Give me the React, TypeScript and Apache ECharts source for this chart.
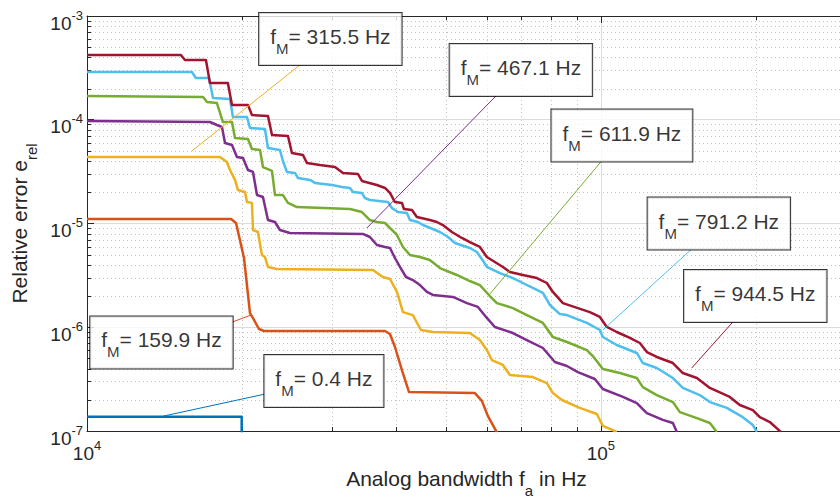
import React, { useEffect, useRef } from 'react';
import * as echarts from 'echarts';

const FONT = '"Liberation Sans", Arial, Helvetica, sans-serif';
const AX = '#262626';

// axis ranges / ticks
const xMin = 1e4;
const xMax = 3e5;
const yMin = 1e-7;
const yMax = 1e-3;
const xMinorTicks = [2e4, 3e4, 4e4, 5e4, 6e4, 7e4, 8e4, 9e4, 2e5, 3e5];
const yMinorTicks = [
  2e-7, 3e-7, 4e-7, 5e-7, 6e-7, 7e-7, 8e-7, 9e-7,
  2e-6, 3e-6, 4e-6, 5e-6, 6e-6, 7e-6, 8e-6, 9e-6,
  2e-5, 3e-5, 4e-5, 5e-5, 6e-5, 7e-5, 8e-5, 9e-5,
  2e-4, 3e-4, 4e-4, 5e-4, 6e-4, 7e-4, 8e-4, 9e-4,
];

// curves: [analog bandwidth Hz, relative error]
const curve04 = [[1e4, 1.37e-7], [2e4, 1.37e-7], [2e4, 0.9e-7]];
const curve160 = [
  [1e4, 1.105e-5], [19070, 1.105e-5], [19500, 1.011e-5], [20210, 4.65e-6], [20760, 1.37e-6],
  [21140, 1.175e-6], [21610, 9.62e-7], [22100, 9.2e-7], [38010, 9.2e-7], [38870, 8.61e-7],
  [39750, 6.45e-7], [41010, 3.87e-7], [42320, 2.38e-7], [56870, 2.32e-7], [58680, 1.95e-7],
  [60290, 1.39e-7], [62760, 0.97e-7],
];
const curve316 = [
  [1e4, 4.38e-5], [18140, 4.38e-5], [18720, 3.92e-5], [18980, 3.28e-5], [19410, 2.63e-5],
  [19670, 2.1e-5], [20300, 2.01e-5], [20480, 1.61e-5], [20940, 1.58e-5], [21040, 8.66e-6],
  [21510, 8.28e-6], [21900, 4.97e-6], [22200, 4.75e-6], [22500, 3.81e-6], [23420, 3.64e-6],
  [36000, 3.56e-6], [37660, 3.05e-6], [38870, 2.92e-6], [40100, 2.19e-6], [41200, 1.4e-6],
  [43070, 1.31e-6], [44660, 9.41e-7], [47120, 9.0e-7], [55600, 8.8e-7], [58150, 7.53e-7],
  [60000, 6.03e-7], [61360, 4.83e-7], [64470, 4.33e-7], [66530, 3.47e-7], [73730, 3.31e-7],
  [78510, 2.9e-7], [80660, 2.32e-7], [83980, 1.99e-7], [91010, 1.67e-7], [98220, 1.46e-7],
  [100900, 1.12e-7], [107400, 0.98e-7],
];
const curve467 = [
  [1e4, 9.72e-5], [17350, 9.51e-5], [17900, 8.9e-5], [18310, 8.51e-5], [18560, 5.97e-5],
  [19150, 5.71e-5], [19580, 4.38e-5], [20120, 4.28e-5], [20570, 3.28e-5], [21040, 3.14e-5],
  [21420, 1.88e-5], [22000, 1.8e-5], [22500, 1.08e-5], [23220, 1.034e-5], [23740, 8.66e-6],
  [24830, 8.1e-6], [34430, 7.93e-6], [35530, 7.41e-6], [36660, 6.21e-6], [38010, 5.94e-6],
  [38870, 5.81e-6], [39750, 4.65e-6], [40650, 3.81e-6], [41760, 3.05e-6], [43070, 2.85e-6],
  [44460, 2.55e-6], [45870, 2.19e-6], [47120, 2.05e-6], [51540, 1.96e-6], [54870, 1.71e-6],
  [57650, 1.57e-6], [60000, 1.23e-6], [62200, 1.006e-6], [67430, 8.8e-7], [71780, 7.53e-7],
  [77130, 6.31e-7], [81380, 4.62e-7], [85900, 4.23e-7], [90230, 3.7e-7], [97340, 3.17e-7],
  [100900, 2.54e-7], [110400, 2.13e-7], [117500, 1.86e-7], [122900, 1.49e-7], [132000, 1.28e-7],
  [138100, 1.194e-7], [140600, 0.98e-7],
];
const curve612 = [
  [1e4, 1.694e-4], [16820, 1.657e-4], [17120, 1.483e-4], [17900, 1.45e-4], [18390, 9.51e-5],
  [19150, 9.51e-5], [19410, 6.67e-5], [20570, 6.52e-5], [20940, 5.22e-5], [21710, 5.11e-5],
  [22000, 3.5e-5], [22910, 3.21e-5], [23220, 1.88e-5], [24060, 1.88e-5], [24610, 1.58e-5],
  [25620, 1.44e-5], [32490, 1.38e-5], [34280, 1.29e-5], [35530, 1.08e-5], [36660, 1.034e-5],
  [38010, 1.011e-5], [38870, 9.05e-6], [40100, 7.75e-6], [41200, 5.94e-6], [42510, 4.97e-6],
  [44460, 4.75e-6], [46480, 4.45e-6], [48620, 3.72e-6], [52460, 3.19e-6], [55600, 2.79e-6],
  [58150, 2.55e-6], [60810, 2.0e-6], [62760, 1.71e-6], [67430, 1.53e-6], [71780, 1.31e-6],
  [77130, 1.1e-6], [80660, 8.05e-7], [85900, 7.21e-7], [93940, 6.03e-7], [96470, 5.28e-7],
  [100900, 3.96e-7], [108900, 3.62e-7], [117500, 3.24e-7], [120700, 2.65e-7], [128500, 2.22e-7],
  [138100, 1.9e-7], [142500, 1.52e-7], [153800, 1.33e-7], [163000, 1.194e-7], [168200, 0.98e-7],
];
const curve791 = [
  [1e4, 2.885e-4], [16000, 2.885e-4], [16290, 2.525e-4], [17270, 2.525e-4], [17590, 1.62e-4],
  [18980, 1.585e-4], [19230, 1.063e-4], [20480, 1.063e-4], [20760, 8.33e-5], [22200, 8.14e-5],
  [22500, 5.34e-5], [23740, 5.11e-5], [24060, 4.0e-5], [24490, 3.14e-5], [25390, 3.07e-5],
  [25730, 2.75e-5], [27160, 2.63e-5], [27780, 2.46e-5], [29980, 2.35e-5], [31340, 2.25e-5],
  [32490, 2.2e-5], [32930, 2.01e-5], [34280, 1.97e-5], [34740, 1.76e-5], [35530, 1.685e-5],
  [38510, 1.61e-5], [39210, 1.41e-5], [40280, 1.29e-5], [41940, 1.262e-5], [42510, 1.08e-5],
  [44060, 1.034e-5], [45060, 9.67e-6], [46080, 9.25e-6], [48620, 8.28e-6], [50400, 7.41e-6],
  [52000, 6.49e-6], [55600, 5.81e-6], [57380, 5.31e-6], [59210, 4.25e-6], [60000, 3.81e-6],
  [63610, 3.33e-6], [67430, 2.98e-6], [70500, 2.67e-6], [73730, 2.39e-6], [77130, 2.14e-6],
  [79580, 1.64e-6], [83240, 1.34e-6], [85900, 1.31e-6], [93940, 1.1e-6], [99560, 9.41e-7],
  [100900, 8.05e-7], [107400, 6.74e-7], [117500, 5.65e-7], [120700, 4.52e-7], [128500, 4.05e-7],
  [138100, 3.24e-7], [144400, 2.6e-7], [155800, 2.22e-7], [163000, 1.9e-7], [175900, 1.67e-7],
  [188900, 1.36e-7], [197600, 1.14e-7], [201200, 0.98e-7],
];
const curve945 = [
  [1e4, 4.21e-4], [15230, 4.21e-4], [15510, 3.77e-4], [17040, 3.77e-4], [17350, 2.26e-4],
  [18800, 2.26e-4], [19150, 1.39e-4], [20570, 1.39e-4], [20940, 1.111e-4], [22500, 1.087e-4],
  [22910, 7.13e-5], [24610, 6.97e-5], [25050, 4.78e-5], [26320, 4.57e-5], [26790, 3.83e-5],
  [28400, 3.66e-5], [30380, 3.5e-5], [31490, 3.07e-5], [33670, 3.0e-5], [34280, 2.57e-5],
  [36660, 2.35e-5], [38010, 2.2e-5], [38870, 1.97e-5], [39750, 1.61e-5], [41010, 1.58e-5],
  [41380, 1.38e-5], [42890, 1.35e-5], [43850, 1.155e-5], [46480, 1.08e-5], [47960, 1.034e-5],
  [49270, 9.67e-6], [51300, 8.28e-6], [53650, 7.25e-6], [55600, 6.63e-6], [58150, 5.94e-6],
  [60000, 4.75e-6], [64470, 3.81e-6], [66530, 3.41e-6], [70500, 3.19e-6], [75070, 2.98e-6],
  [78510, 2.67e-6], [80660, 2.19e-6], [84360, 1.71e-6], [95200, 1.4e-6], [99560, 1.256e-6],
  [102700, 1.006e-6], [107400, 9.0e-7], [113900, 7.88e-7], [119100, 7.05e-7], [122900, 5.77e-7],
  [128500, 5.17e-7], [138100, 4.52e-7], [144400, 3.62e-7], [153800, 3.24e-7], [163000, 2.6e-7],
  [178200, 2.13e-7], [186400, 1.78e-7], [197600, 1.59e-7], [203900, 1.36e-7], [213200, 1.22e-7],
  [224000, 0.98e-7],
];

const curves = [curve04, curve160, curve316, curve467, curve612, curve791, curve945];
const colors = ['#0072BD', '#D95319', '#EDB120', '#7E2F8E', '#77AC30', '#4DBEEE', '#A2142F'];

// annotations (f_M values), box centres and leader lines (data coordinates)
const boxLabels = ['0.4', '159.9', '315.5', '467.1', '611.9', '791.2', '944.5'];
const boxX = [28910, 13960, 29760, 69890, 109900, 169700, 199800];
const boxY = [3.03e-7, 7.13e-7, 6.0e-4, 3.02e-4, 7.05e-5, 1.0e-5, 2.0e-6];
const leaderLines = [
  [[14060, 1.39e-7], [22200, 2.27e-7]],
  [[19150, 1.12e-6], [20850, 1.31e-6]],
  [[16000, 5.0e-5], [25960, 3.37e-4]],
  [[35050, 9.05e-6], [62480, 1.694e-4]],
  [[60810, 2.09e-6], [100000, 3.92e-5]],
  [[100900, 9.41e-7], [150300, 5.68e-6]],
  [[150300, 4.05e-7], [180600, 1.12e-6]],
];

function isPow10(v: number) {
  const l = Math.log10(v);
  return Math.abs(l - Math.round(l)) < 1e-6;
}

const tickRich = {
  b: { fontSize: 19, fontFamily: FONT, color: AX, verticalAlign: 'bottom', lineHeight: 24 },
  s: { fontSize: 13, fontFamily: FONT, color: AX, verticalAlign: 'top', lineHeight: 24 },
};
const nameRich = {
  a: { fontSize: 21, fontFamily: FONT, color: AX, verticalAlign: 'top', lineHeight: 30 },
  s: { fontSize: 15, fontFamily: FONT, color: AX, verticalAlign: 'bottom', lineHeight: 30 },
};
const boxRich = {
  f: { fontSize: 21, fontFamily: FONT, color: '#000', verticalAlign: 'top', lineHeight: 30 },
  m: { fontSize: 15, fontFamily: FONT, color: '#000', verticalAlign: 'bottom', lineHeight: 30 },
};

export default function App() {
  const ref = useRef<HTMLDivElement>(null);
  useEffect(() => {
    if (!ref.current) return;
    const chart = echarts.init(ref.current, undefined, { renderer: 'svg' });

    const xMinorSeries = {
      type: 'custom',
      coordinateSystem: 'cartesian2d',
      silent: true,
      z: 1,
      data: xMinorTicks.map((v) => [v, yMin]),
      renderItem: (params: any, api: any) => {
        const cs = params.coordSys;
        const px = Math.round(api.coord([api.value(0), yMin])[0]) + 0.5;
        return {
          type: 'group',
          children: [
            { type: 'line', shape: { x1: px, y1: cs.y, x2: px, y2: cs.y + cs.height }, style: { stroke: '#c2c2c2', lineWidth: 1, lineDash: [1, 3] } },
            { type: 'line', shape: { x1: px, y1: cs.y + cs.height, x2: px, y2: cs.y + cs.height - 4 }, style: { stroke: AX, lineWidth: 1 } },
            { type: 'line', shape: { x1: px, y1: cs.y, x2: px, y2: cs.y + 4 }, style: { stroke: AX, lineWidth: 1 } },
          ],
        };
      },
    };
    const yMinorSeries = {
      type: 'custom',
      coordinateSystem: 'cartesian2d',
      silent: true,
      z: 1,
      data: yMinorTicks.map((v) => [xMin, v]),
      renderItem: (params: any, api: any) => {
        const cs = params.coordSys;
        const py = Math.round(api.coord([xMin, api.value(1)])[1]) + 0.5;
        return {
          type: 'group',
          children: [
            { type: 'line', shape: { x1: cs.x, y1: py, x2: cs.x + cs.width, y2: py }, style: { stroke: '#c2c2c2', lineWidth: 1, lineDash: [1, 3] } },
            { type: 'line', shape: { x1: cs.x, y1: py, x2: cs.x + 4, y2: py }, style: { stroke: AX, lineWidth: 1 } },
          ],
        };
      },
    };

    const curveSeries = curves.map((d, i) => ({
      type: 'line',
      data: d,
      showSymbol: false,
      symbol: 'none',
      clip: true,
      silent: true,
      z: 3,
      lineStyle: { color: colors[i], width: 2.5, join: 'round' },
      itemStyle: { color: colors[i] },
    }));

    const leaderSeries = leaderLines.map((d, i) => ({
      type: 'line',
      data: d,
      showSymbol: false,
      symbol: 'none',
      silent: true,
      z: 4,
      lineStyle: { color: colors[i], width: 1 },
    }));

    const boxSeries = {
      type: 'scatter',
      silent: true,
      z: 6,
      symbolSize: 1,
      itemStyle: { color: 'rgba(0,0,0,0)' },
      data: boxLabels.map((t, i) => ({
        value: [boxX[i], boxY[i]],
        label: {
          show: true,
          position: 'inside',
          formatter: `{f|f}{m|M}{f|= ${t} Hz}`,
          rich: boxRich,
          backgroundColor: '#ffffff',
          borderColor: '#000000',
          borderWidth: 1,
          padding: [13, 11, 9, 11],
        },
      })),
    };

    chart.setOption({
      animation: false,
      backgroundColor: '#ffffff',
      textStyle: { fontFamily: FONT },
      grid: { left: 87, right: -6, top: 16, bottom: 71, containLabel: false, outerBoundsMode: 'none' },
      xAxis: [
        {
          type: 'log',
          logBase: 10,
          min: xMin,
          max: xMax,
          name: '{a|Analog bandwidth f}{s|a}{a| in Hz}',
          nameLocation: 'middle',
          nameGap: 33,
          nameTextStyle: { rich: nameRich },
          axisLine: { lineStyle: { color: AX, width: 1 } },
          axisTick: { inside: true, length: 7, lineStyle: { color: AX, width: 1 } },
          axisLabel: {
            margin: 8,
            hideOverlap: false,
            formatter: (v: number) => (isPow10(v) ? `{b|10}{s|${Math.round(Math.log10(v))}}` : ''),
            rich: tickRich,
          },
          splitLine: { show: true, lineStyle: { color: '#dcdcdc', width: 1 } },
        },
        {
          type: 'log',
          logBase: 10,
          min: xMin,
          max: xMax,
          position: 'top',
          axisLine: { lineStyle: { color: AX, width: 1 } },
          axisTick: { inside: true, length: 7, lineStyle: { color: AX, width: 1 } },
          axisLabel: { show: false },
          splitLine: { show: false },
        },
      ],
      yAxis: {
        type: 'log',
        logBase: 10,
        min: yMin,
        max: yMax,
        name: '{a|Relative error e}{s|rel}',
        nameLocation: 'middle',
        nameGap: 47,
        nameTextStyle: { rich: nameRich },
        axisLine: { lineStyle: { color: AX, width: 1 } },
        axisTick: { inside: true, length: 7, lineStyle: { color: AX, width: 1 } },
        axisLabel: {
          margin: 4,
          hideOverlap: false,
          padding: [9, 0, 0, 0],
          formatter: (v: number) => (isPow10(v) ? `{b|10}{s|${Math.round(Math.log10(v))}}` : ''),
          rich: tickRich,
        },
        splitLine: { show: true, lineStyle: { color: '#dcdcdc', width: 1 } },
      },
      series: [xMinorSeries, yMinorSeries, ...curveSeries, ...leaderSeries, boxSeries],
    });

    return () => chart.dispose();
  }, []);

  return (
    <div
      ref={ref}
      style={{ position: 'absolute', left: 0, top: 0, width: 840, height: 502, background: '#fff' }}
    />
  );
}
